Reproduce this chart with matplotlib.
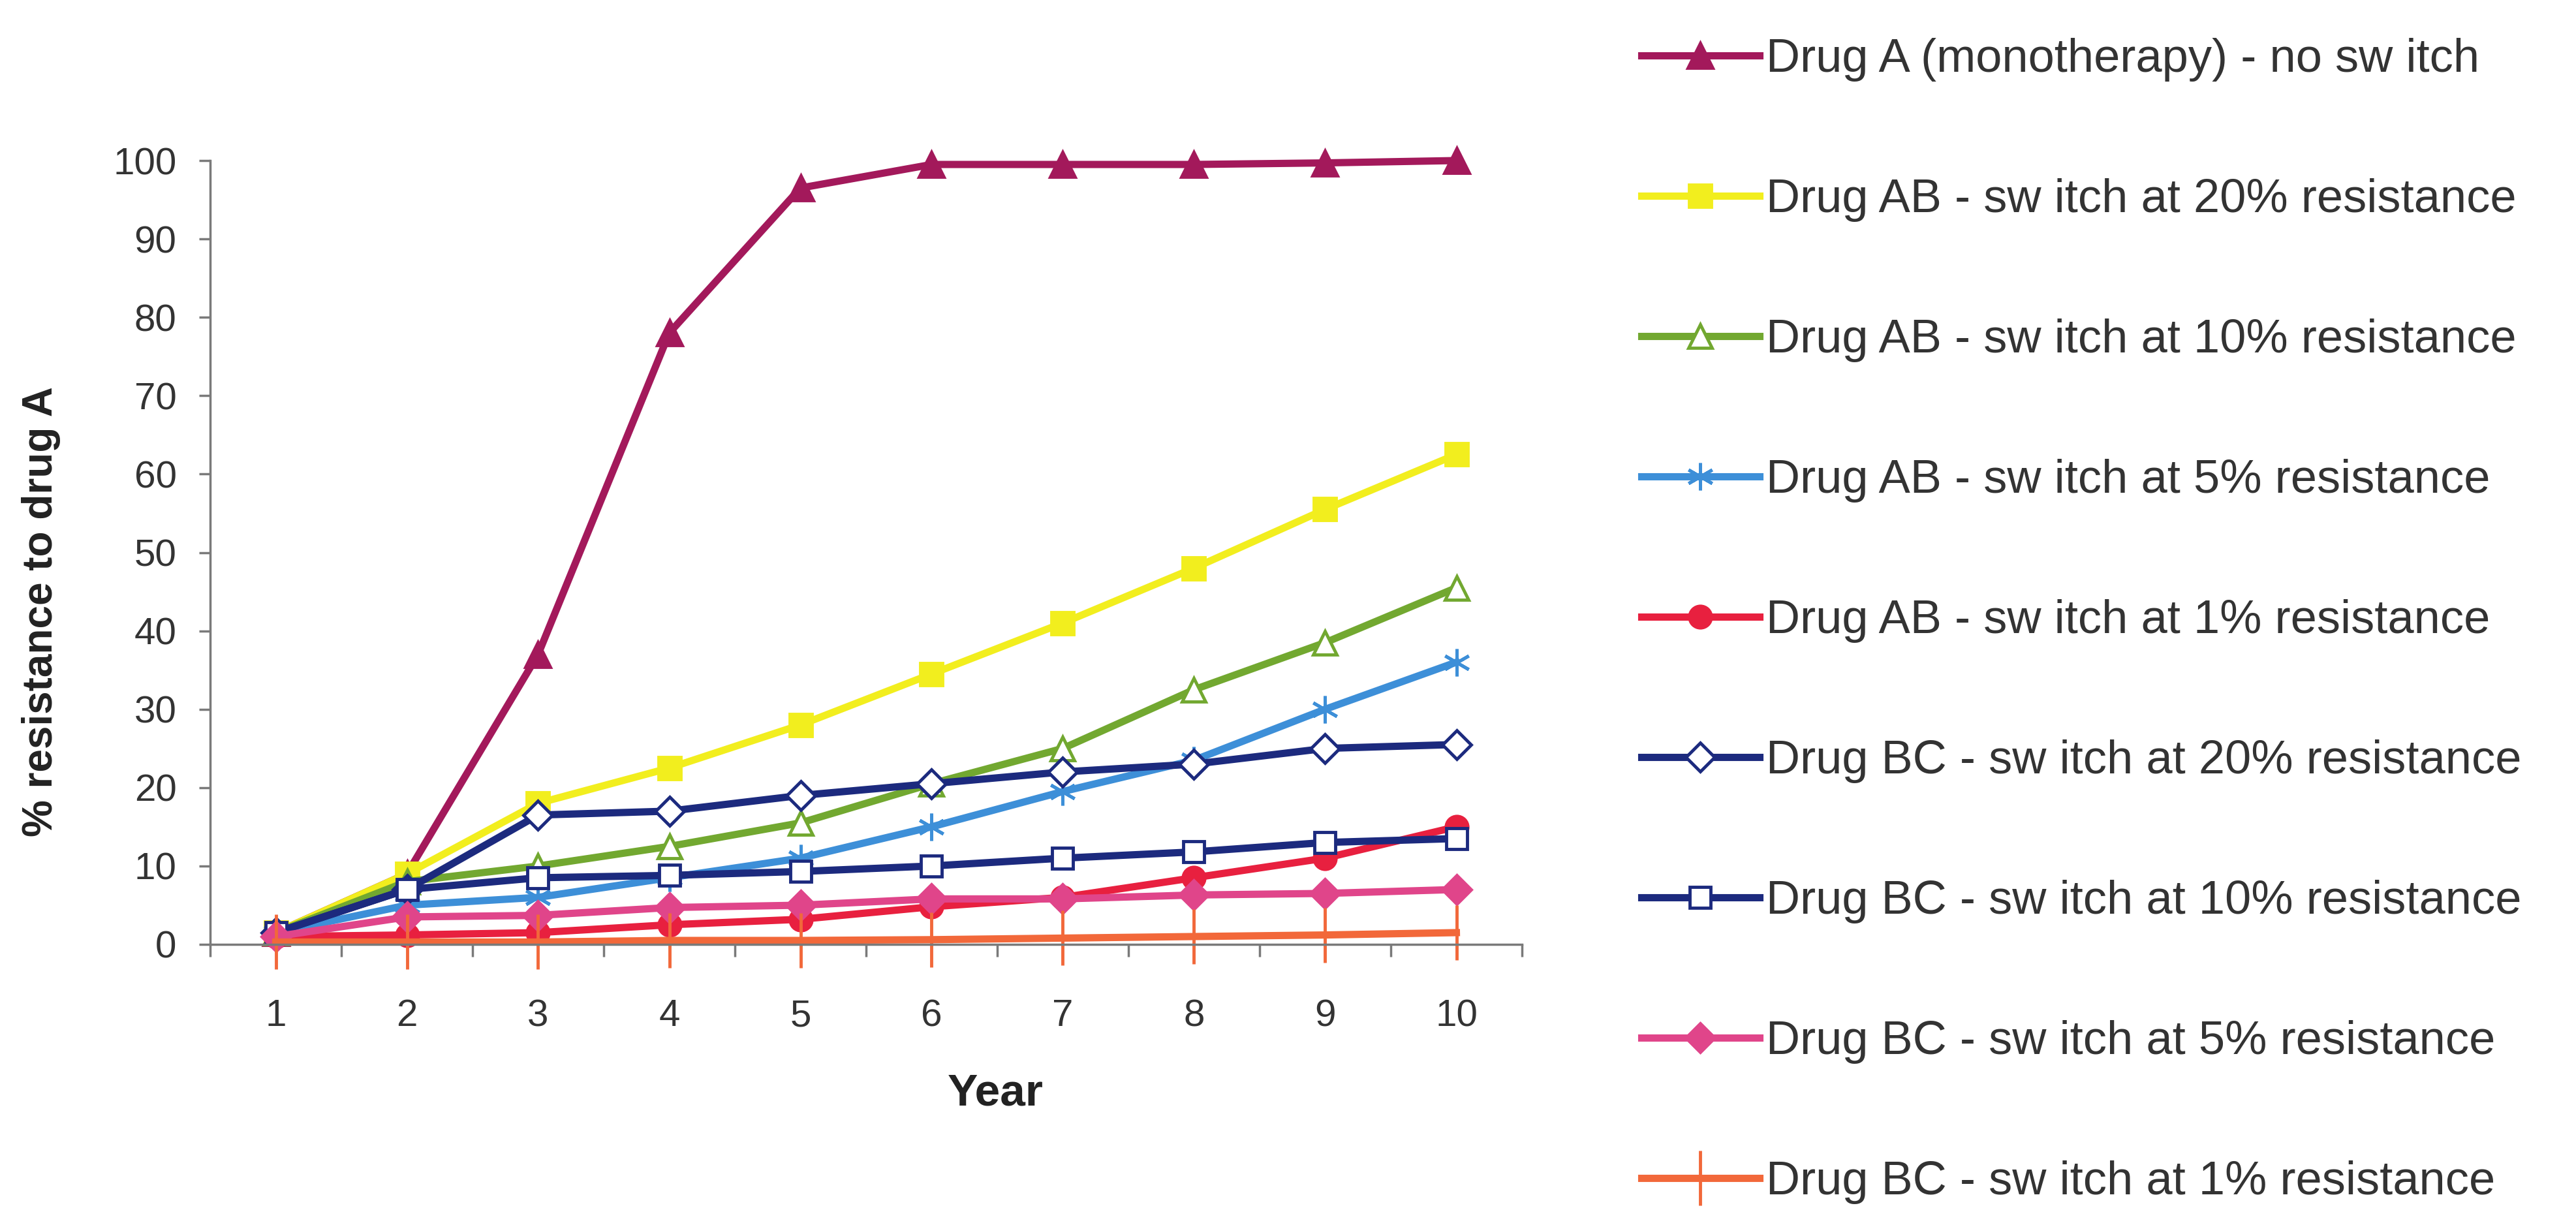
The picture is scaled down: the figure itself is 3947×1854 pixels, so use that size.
import matplotlib
matplotlib.use("Agg")
import matplotlib.pyplot as plt
import numpy

plt.rcParams['font.family'] = ['Liberation Sans', 'DejaVu Sans']

years = [1, 2, 3, 4, 5, 6, 7, 8, 9, 10]

labels = [
    "Drug A (monotherapy) - no sw itch",
    "Drug AB - sw itch at 20% resistance",
    "Drug AB - sw itch at 10% resistance",
    "Drug AB - sw itch at 5% resistance",
    "Drug AB - sw itch at 1% resistance",
    "Drug BC - sw itch at 20% resistance",
    "Drug BC - sw itch at 10% resistance",
    "Drug BC - sw itch at 5% resistance",
    "Drug BC - sw itch at 1% resistance",
]

drug_a = [1.5, 9, 37, 78, 96.5, 99.5, 99.5, 99.5, 99.7, 100]
ab_20 = [1.5, 9, 18, 22.5, 28, 34.5, 41, 48, 55.5, 62.5]
ab_10 = [1.5, 8, 10, 12.5, 15.5, 20.5, 25, 32.5, 38.5, 45.5]
ab_5 = [1.5, 5, 6, 8.5, 11, 15, 19.5, 23.5, 30, 36]
ab_1 = [1, 1.2, 1.5, 2.5, 3.2, 4.8, 6, 8.5, 11, 15]
bc_20 = [1.5, 7, 16.5, 17, 19, 20.5, 22, 23, 25, 25.5]
bc_10 = [1.5, 7, 8.5, 8.8, 9.3, 10, 11, 11.8, 13, 13.5]
bc_5 = [1, 3.5, 3.7, 4.7, 5, 5.8, 5.8, 6.3, 6.5, 7]
bc_1 = [0.3, 0.3, 0.3, 0.5, 0.5, 0.6, 0.8, 1, 1.2, 1.5]

series = [drug_a, ab_20, ab_10, ab_5, ab_1, bc_20, bc_10, bc_5, bc_1]

# colour, marker, marker face, marker size
styles = [
    ('#a3195b', '^', '#a3195b', 28),
    ('#f2ee1e', 's', '#f2ee1e', 24),
    ('#72a830', '^', 'white', 26),
    ('#3d8fd8', (6, 2, 0), '#3d8fd8', 30),
    ('#e8203f', 'o', '#e8203f', 24),
    ('#1c2a7e', 'D', 'white', 22),
    ('#1c2a7e', 's', 'white', 23),
    ('#e0458a', 'D', '#e0458a', 22),
    ('#f2683a', '|', '#f2683a', 60),
]

fig = plt.figure(figsize=(39.48, 18.54), dpi=100)
ax = fig.add_axes([322 / 3948, 1 - 1447 / 1854, (2332 - 322) / 3948, (1447 - 246) / 1854])

for vals, lab, (col, mk, mfc, ms) in zip(series, labels, styles):
    ax.plot(years, vals, color=col, lw=8, marker=mk, markersize=ms,
            markerfacecolor=mfc, markeredgecolor=col, markeredgewidth=3.5,
            label=lab, clip_on=False)

ax.set_xlim(0.5, 10.5)
ax.set_ylim(0, 100)
ax.set_yticks(numpy.arange(0, 101, 10))
ax.set_xticks(years)
ax.set_xticks(numpy.arange(0.5, 10.6, 1), minor=True)

for s in ['top', 'right']:
    ax.spines[s].set_visible(False)
for s in ['left', 'bottom']:
    ax.spines[s].set_color('#7a7a7a')
    ax.spines[s].set_linewidth(2.5)

ax.tick_params(axis='y', direction='out', length=12, width=2.5, color='#7a7a7a',
               pad=25, labelsize=42, labelcolor='#333333')
ax.tick_params(axis='x', which='major', length=0, pad=60, labelsize=42,
               labelcolor='#333333')
ax.tick_params(axis='x', which='minor', direction='out', length=14, width=2.5,
               color='#7a7a7a')

fig.text(63 / 3948, 1 - 937 / 1854, "% resistance to drug A", rotation=90,
         ha='center', va='center', fontsize=46, fontweight='bold', color='#222222')
fig.text(1525 / 3948, 1 - 1676 / 1854, "Year", ha='center', va='center',
         fontsize=50, fontweight='bold', color='#222222')

leg = fig.legend(loc='upper left', bbox_to_anchor=(2515 / 3948, 1 - 58 / 1854),
                 frameon=False, fontsize=52, handlelength=2.5, handletextpad=0.15,
                 labelspacing=2.05, borderaxespad=0, borderpad=0)
for t in leg.get_texts():
    t.set_color('#333333')

fig.savefig("out.png", dpi=100, facecolor='white')
